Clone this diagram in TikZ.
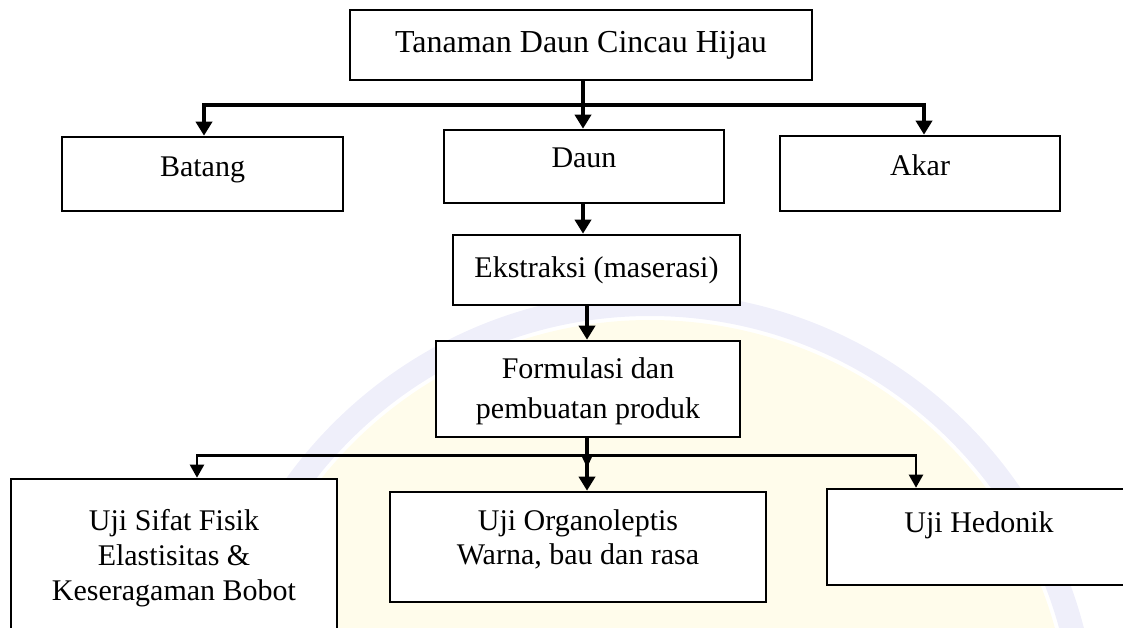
\documentclass[tikz,border=0pt]{standalone}
\usepackage{fontspec}
\setmainfont{Liberation Serif}
\usetikzlibrary{arrows.meta}
\definecolor{wmband}{RGB}{232,232,248}
\definecolor{wmfill}{RGB}{255,251,226}
\begin{document}
\begin{tikzpicture}[x=1pt,y=-1pt,
  box/.style={draw=black, line width=2.6pt, fill=white, inner sep=0pt},
  lbl/.style={font=\fontsize{30}{35}\selectfont, inner sep=0pt, anchor=base},
  arrT/.style={line width=4pt, -{Triangle[length=14pt,width=16pt]}},
  arrB/.style={line width=2.2pt, -{Triangle[length=13pt,width=14pt]}},
  barT/.style={line width=4pt},
  barB/.style={line width=3pt},
]
\useasboundingbox (0,0) rectangle (1123,628);
% faint watermark
\begin{scope}
\clip (0,0) rectangle (1123,628);
\fill[wmfill, opacity=0.7] (650,740) circle (420);
\draw[wmband, line width=24pt, opacity=0.7] (650,740) circle (436);
\end{scope}

% boxes
\node[box, minimum width=462pt, minimum height=70pt] (top) at (581,45) {};
\node[box, minimum width=281pt, minimum height=74pt] (batang) at (202.5,174) {};
\node[box, minimum width=280pt, minimum height=73pt] (daun) at (584,166.5) {};
\node[box, minimum width=280pt, minimum height=75pt] (akar) at (920,173.5) {};
\node[box, minimum width=287pt, minimum height=70pt] (ekstr) at (596.5,270) {};
\node[box, minimum width=304pt, minimum height=96pt] (form) at (588,389) {};
\node[box, minimum width=326pt, minimum height=170pt] (fisik) at (174,564) {};
\node[box, minimum width=376pt, minimum height=110pt] (org) at (578,547) {};
\node[box, minimum width=304pt, minimum height=96pt] (hed) at (979,537) {};

% texts
\node[lbl, font=\fontsize{32}{36}\selectfont] (ttop) at (581,53) {Tanaman Daun Cincau Hijau};
\node[lbl] (tbat) at (202.5,177) {Batang};
\node[lbl] (tdaun) at (584,168) {Daun};
\node[lbl] (takar) at (920,176) {Akar};
\node[lbl] (teks) at (596.5,277) {Ekstraksi (maserasi)};
\node[lbl] (tforma) at (588,378) {Formulasi dan};
\node[lbl] (tformb) at (588,418) {pembuatan produk};
\node[lbl] (tfisa) at (174,530) {Uji Sifat Fisik};
\node[lbl] (tfisb) at (174,565) {Elastisitas \&};
\node[lbl] (tfisc) at (174,600) {Keseragaman Bobot};
\node[lbl] (torga) at (578,530) {Uji Organoleptis};
\node[lbl] (torgb) at (578,564) {Warna, bau dan rasa};
\node[lbl] (thed) at (979,532) {Uji Hedonik};

% upper connectors
\coordinate (bl) at (204,103);
\coordinate (br) at (924,103);
\draw[barT] (204,105) -- (924,105);
\draw[arrT] (bl) -- (batang.north -| bl);
\draw[arrT] (br) -- (akar.north -| br);
\draw[arrT] (top.south -| 583,0) -- (daun.north -| 583,0);
\draw[arrT] (daun.south -| 583,0) -- (ekstr.north -| 583,0);
\draw[arrT] (ekstr.south -| 587,0) -- (form.north -| 587,0);

% lower connectors
\coordinate (cl) at (197,454);
\coordinate (cr) at (916,454);
\coordinate (cm) at (587,468);
\draw[barB] (197,455) -- (916,455);
\draw[arrB] (cl) -- (fisik.north -| cl);
\draw[arrB] (cr) -- (hed.north -| cr);
\draw[line width=4pt, -{Triangle[length=11pt,width=9pt]}] (form.south -| cm) -- (cm);
\draw[arrT] (form.south -| cm) -- (org.north -| cm);
\end{tikzpicture}
\end{document}
